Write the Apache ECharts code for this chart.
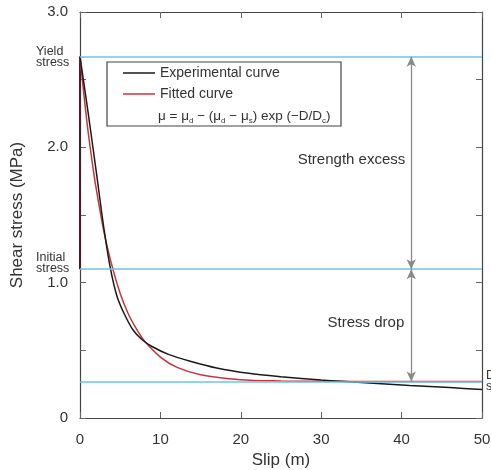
<!DOCTYPE html>
<html>
<head>
<meta charset="utf-8">
<script src="https://cdn.jsdelivr.net/npm/echarts@6/dist/echarts.min.js"></script>
<style>
  html, body { margin: 0; padding: 0; background: #fff; }
  #chart { width: 491px; height: 470px; }
</style>
</head>
<body>
<div id="chart"></div>
<script>
// slip (m), shear stress (MPa)
const loading = [[0, 1.1], [0, 2.67]];
const experimental = [
  [0, 2.67], [1, 2.26], [2, 1.83], [3, 1.39], [3.8, 1.10], [4.6, 0.90],
  [5.5, 0.77], [6.6, 0.65], [7.7, 0.58], [8.9, 0.53], [11, 0.47],
  [13.7, 0.42], [17, 0.37], [21, 0.33], [25, 0.305], [30, 0.28],
  [33, 0.27], [37, 0.255], [41, 0.24], [46, 0.225], [50, 0.21]
];
const fitted = [
  [0, 2.67], [0.5, 2.38], [1, 2.12], [1.66, 1.83], [2, 1.70], [3, 1.37],
  [4, 1.12], [5, 0.92], [6, 0.77], [7, 0.66], [8, 0.57], [10, 0.45],
  [12, 0.376], [15, 0.32], [20, 0.283], [25, 0.274], [30, 0.271],
  [40, 0.27], [50, 0.27]
];
const yieldStress = 2.67;
const initialStress = 1.10;
const dynamicStress = 0.27;
const arrowX = 41.2;
const yTicks = { 0: '0', 1: '1.0', 2: '2.0', 3: '3.0' };

const font = 'Liberation Sans, Arial, sans-serif';
const chart = echarts.init(document.getElementById('chart'));

const stressLabel = (txt, pad) => ({
  show: true,
  fontFamily: font,
  fontSize: 12.5,
  color: '#333',
  lineHeight: 11,
  padding: pad,
  formatter: txt,
  rich: { a: { width: 41, align: 'left', fontSize: 12.5, lineHeight: 11, fontFamily: font, color: '#333' } }
});

const axisCommon = {
  type: 'value',
  axisLine: { show: true, onZero: false, lineStyle: { color: '#444', width: 1.2 } },
  axisTick: { inside: true, length: 6, lineStyle: { color: '#666' } },
  splitLine: { show: false }
};

let option = {
  animation: false,
  grid: { left: 80, right: 9, top: 12, bottom: 52, outerBoundsMode: 'none' },
  legend: {
    data: ['Experimental curve', 'Fitted curve'],
    orient: 'vertical',
    left: 118,
    top: 61,
    icon: 'rect',
    itemWidth: 32,
    itemHeight: 1.5,
    itemGap: 7,
    textStyle: { fontFamily: font, fontSize: 14, color: '#333', lineHeight: 14 }
  },
  xAxis: [Object.assign({}, axisCommon, {
    min: 0, max: 50, interval: 10,
    name: 'Slip (m)', nameLocation: 'middle', nameGap: 34,
    nameTextStyle: { fontFamily: font, fontSize: 17, color: '#333' },
    axisLabel: { fontFamily: font, fontSize: 15, color: '#333', margin: 14 }
  }), Object.assign({}, axisCommon, {
    min: 0, max: 50, interval: 10, position: 'top',
    axisLabel: { show: false }
  })],
  yAxis: [Object.assign({}, axisCommon, {
    min: 0, max: 3, interval: 0.5,
    name: 'Shear stress (MPa)', nameLocation: 'middle', nameGap: 54,
    nameTextStyle: { fontFamily: font, fontSize: 17, color: '#333' },
    axisLabel: {
      fontFamily: font, fontSize: 15, color: '#333', margin: 12,
      formatter: (v) => (yTicks[v] !== undefined ? yTicks[v] : '')
    }
  }), Object.assign({}, axisCommon, {
    min: 0, max: 3, interval: 0.5, position: 'right',
    axisLabel: { show: false }
  })],
  series: [
    {
      name: 'levels',
      type: 'line',
      data: [],
      silent: true,
      markLine: {
        silent: true,
        symbol: 'none',
        animation: false,
        lineStyle: { color: '#6cc6e0', width: 1.5, type: 'solid' },
        data: [
          { yAxis: yieldStress, label: Object.assign(stressLabel('{a|Yield}\n{a|stress}', 0), { position: 'start', distance: 3 }) },
          { yAxis: initialStress, label: Object.assign(stressLabel('{a|Initial}\n{a|stress}', [0, 0, 12, 0]), { position: 'start', distance: 3 }) },
          { yAxis: dynamicStress, label: Object.assign(stressLabel('{a|Dynamic}\n{a|stress}', 0), { position: 'end', distance: 4 }) }
        ]
      }
    },
    {
      name: 'arrows',
      type: 'line',
      data: [],
      silent: true,
      markLine: {
        silent: true,
        animation: false,
        symbol: ['arrow', 'arrow'],
        symbolSize: [7, 10],
        label: { show: false },
        lineStyle: { color: '#8a8a8a', width: 1.3, type: 'solid' },
        data: [
          [{ coord: [arrowX, yieldStress] }, { coord: [arrowX, initialStress] }],
          [{ coord: [arrowX, initialStress] }, { coord: [arrowX, dynamicStress] }]
        ]
      }
    },
    {
      name: 'loading',
      type: 'line',
      data: loading,
      showSymbol: false,
      lineStyle: { color: '#4a1c26', width: 2 }
    },
    {
      name: 'Fitted curve',
      type: 'line',
      data: fitted,
      smooth: 0.3,
      showSymbol: false,
      itemStyle: { color: '#c9343c' },
      lineStyle: { color: '#c9343c', width: 1.5 }
    },
    {
      name: 'Experimental curve',
      type: 'line',
      data: experimental,
      smooth: 0.3,
      showSymbol: false,
      itemStyle: { color: '#1a1a1a' },
      lineStyle: { color: '#1a1a1a', width: 1.5 }
    }
  ]
};
chart.setOption(option);

// legend frame, formula and annotation texts
const p = (x, y) => chart.convertToPixel({ xAxisIndex: 0, yAxisIndex: 0 }, [x, y]);
const se = p(arrowX, (yieldStress + initialStress) / 2 + 0.02);
const sd = p(arrowX, (initialStress + dynamicStress) / 2 + 0.02);
chart.setOption({
  graphic: [
    {
      type: 'rect', shape: { x: 107, y: 62, width: 234, height: 64 },
      style: { fill: 'none', stroke: '#444', lineWidth: 1.2 }, z: 10
    },
    {
      type: 'text', x: 158, y: 116, z: 11,
      style: {
        text: '{b|μ = μ}{s|d}{b| − (μ}{s|d}{b| − μ}{s|s}{b|) exp (−D/D}{s|c}{b|)}',
        fontFamily: font, fill: '#333', verticalAlign: 'middle',
        rich: {
          b: { fontFamily: font, fontSize: 13.5, lineHeight: 17, verticalAlign: 'middle', fill: '#333' },
          s: { fontFamily: font, fontSize: 8, lineHeight: 9, verticalAlign: 'bottom', fill: '#333' }
        }
      }
    },
    {
      type: 'text', x: se[0] - 6, y: se[1], z: 11,
      style: { text: 'Strength excess', fontFamily: font, fontSize: 15, fill: '#333', align: 'right', verticalAlign: 'middle' }
    },
    {
      type: 'text', x: sd[0] - 7, y: sd[1], z: 11,
      style: { text: 'Stress drop', fontFamily: font, fontSize: 15, fill: '#333', align: 'right', verticalAlign: 'middle' }
    }
  ]
});
</script>
</body>
</html>
